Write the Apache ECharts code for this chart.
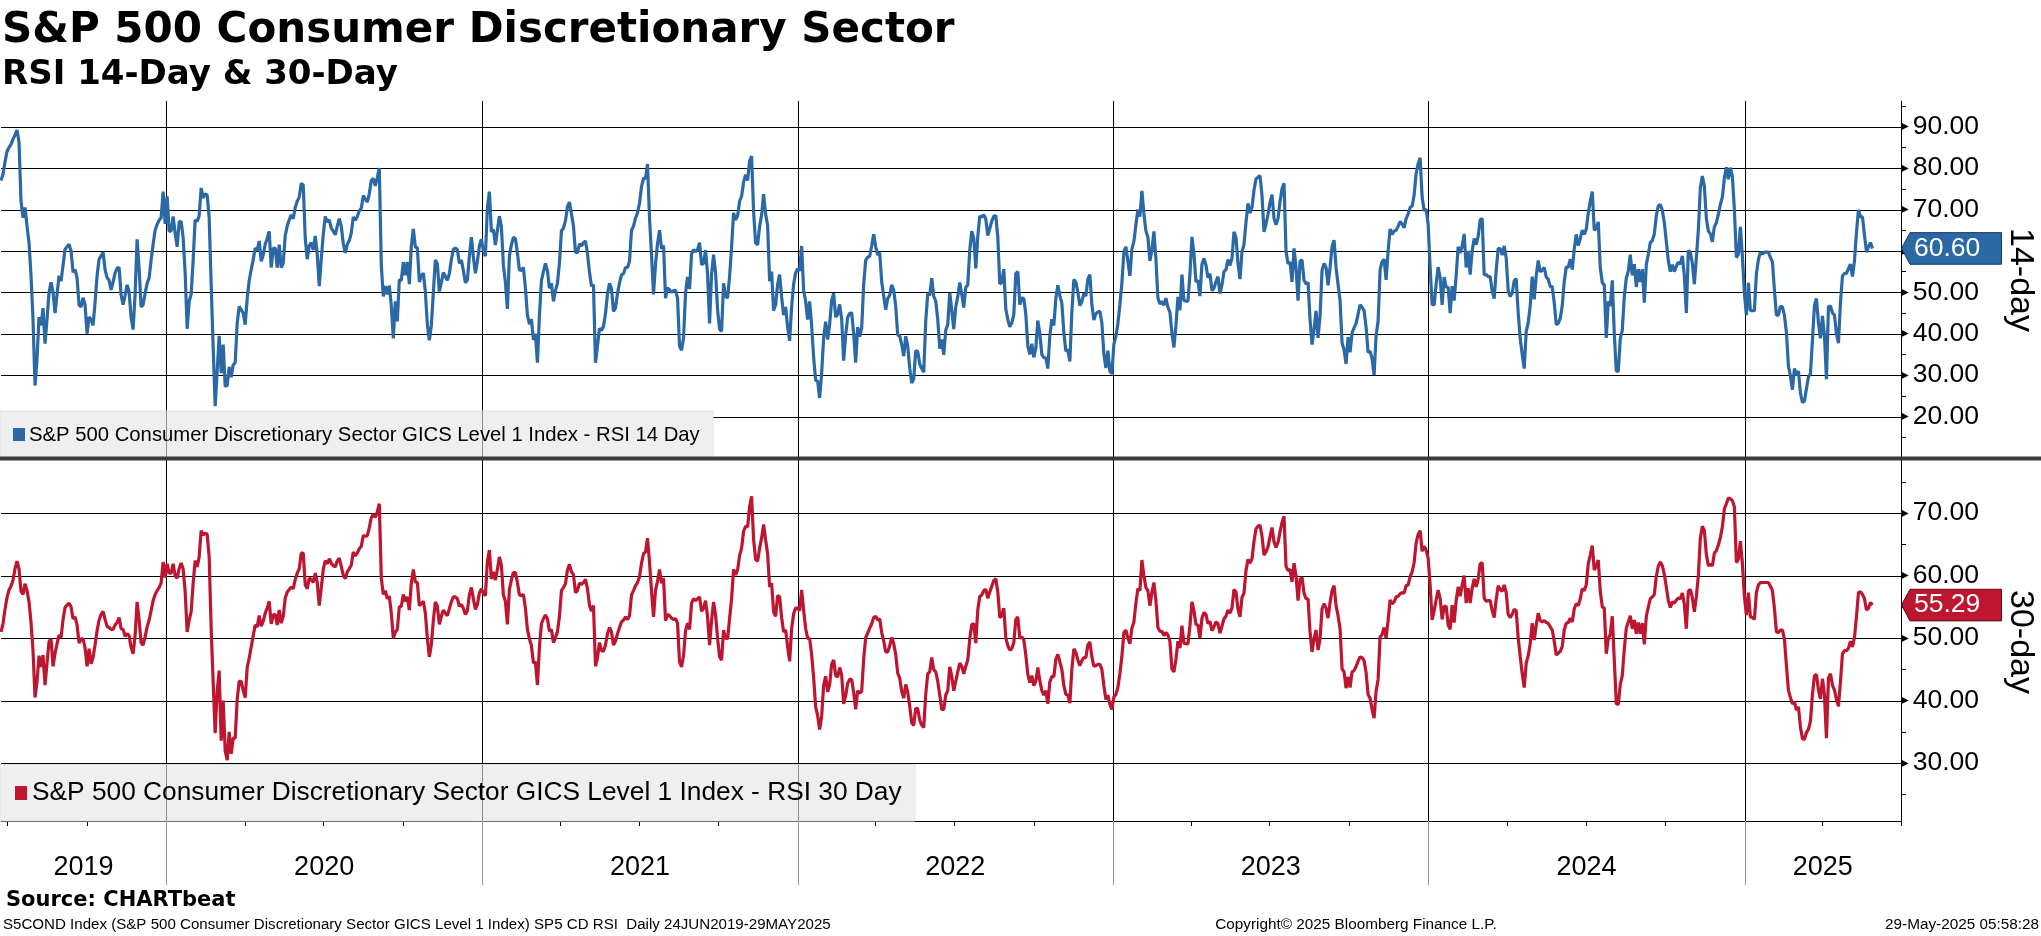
<!DOCTYPE html>
<html>
<head>
<meta charset="utf-8">
<script src="https://cdn.jsdelivr.net/npm/echarts@6/dist/echarts.min.js"></script>
<style>
html,body{margin:0;padding:0;background:#fff;}
#chart{width:2041px;height:936px;}
</style>
</head>
<body>
<div id="chart"></div>
<script>
// ---------------- data ----------------
const startDate = '2019-06-24';
const endDate = '2025-05-29';
const axisEndDate = '2025-07-01';

const rsi14 = [
77,78.5,81.5,84,85,85.7,87,88,89.2,86.3,
72,68,70.5,66,62,54,43.3,27.5,34,44,
42,46.2,37.6,43.5,50,52.4,50,45,49.5,54,
52.7,56.5,60.4,61,61.6,60,54.8,55.5,53.5,47,
46.5,48.7,47,40,44,43.5,42,47.5,54,58,
58.8,59.7,55.5,53.5,52.9,50.6,52.5,54.7,55.8,56,
49.4,47,49.3,51.8,50.1,44,41,49.5,62.8,55.8,
46.5,47,49.7,52.2,53.5,57.8,61.6,65,66.4,67.4,
68,74.3,66.5,73.2,64.8,64.8,68.3,64.3,61,67,
67.1,63.2,54.8,41.2,47.8,49.5,57.8,67.5,67.1,68.5,
75.2,72.8,73.8,73.5,68,52,36.6,22.5,31,39.5,
30.5,37.4,27.3,27.5,32,29.5,32.5,33,42.5,46.6,
45.8,45,42.2,48.5,52.8,55.5,57.9,60.7,60.2,62.4,
57.5,59,61.6,63,64.7,56,60.6,60.7,56,61.5,
56,57,63.7,66,67.5,68.7,67.8,70.5,72,73,
76.3,75.9,63,58,61.3,62,60.2,63.6,59.3,51.5,
58,64,68.3,67,67.5,65.5,64.8,63.9,66,67.8,
66,61.8,59.5,61.6,62.5,64.3,68.2,67.4,68.3,69.7,
70.3,73.4,72.5,71.8,73.8,77,77.5,75.7,77.7,80,
56.5,49,51.5,49.5,51.6,46.8,38.9,47.8,43,53,
52.9,57.3,54.1,57.3,52,61.2,65.3,60.9,60.8,52.5,
54,54.6,50.2,42.3,38.4,42,50,57.8,56.9,50.2,
52.4,54.8,53.9,52.9,54.5,57.9,60.4,60.7,60.3,57,
57.8,55.3,52.3,53,58.7,63.3,58.5,54.6,57.5,61.2,
62.8,60,58.7,70.3,74.3,64.6,65.2,61.4,65,68.4,
65.8,56.5,52.4,46,58.8,61.5,63.3,63,59.5,55.4,
55.3,56,51,44.5,42.3,43.5,38.5,40,33,44.5,
52.8,55,57,55.2,51,52.2,47.8,50.4,52.2,57,
64.9,65.5,67.3,70.7,71.8,69,66,59.7,59.6,61.7,
61.2,62,62.4,59.4,54.9,51.5,51.8,33,37,41.3,
40.8,41.8,44.8,49.6,52.2,50.9,45.4,46.2,49.7,52.3,
54.2,54.5,56,56,57.5,65,66,67.9,69.2,71.5,
75.5,77.6,77.4,81,68,59,49.5,56.8,61.8,65,
60.5,61.3,48.6,51.1,50.6,50,50.4,50.5,48.6,37,
36,39,49.8,53.7,50.8,59.3,60.3,59.8,60.3,62,
56.7,57,60.2,54.5,42.5,54.4,59.1,54.7,45.8,41.1,
40.6,52.2,49.1,48.6,53.8,61,69.2,67.5,68.5,72,
73.2,76.6,78.4,77,81.7,82.9,69.5,61.9,61.5,65.9,
68.7,73.7,68.9,66.2,52.7,55,45.6,47,51.9,54.3,
48.9,44.5,46.5,41.6,38.3,46.5,52,54.7,55.7,55.2,
61.2,50.4,47.9,43.4,47.8,42,34.3,28.8,28.5,24.5,
30.5,39,42.9,38.6,42.3,48,49.8,44,44.7,47.1,
43.5,33.5,39.6,44,44.9,45.1,40,33,41.6,39.3,
41.4,52,57.8,58.5,58.7,61.3,64,61,59,59.6,
52.5,49.2,45.8,48.5,49.3,51.8,50.5,46.7,39.7,39.5,
37.4,34.6,39.4,37,31.7,28.1,29.1,35.9,35.7,32.7,
31.6,30.7,43,49.7,49.3,53.4,49,47.9,43.5,36.4,
38.6,34.9,40.9,42.2,49.9,45.7,41.1,46.5,48.9,52.4,
49.5,46.3,51.2,51.8,60.2,64.8,63,55.8,63.5,68.4,
68.2,68.7,67.7,63.7,65.4,67.2,68.4,68.5,63.3,52,
52.4,55.6,46,43.4,41.7,42.6,44.6,54.5,55,47,
48.7,48.4,44.7,37,35,37.6,34.3,36.5,43.2,40,
35,34.2,34.2,31.6,39.5,43.5,42,48.5,51.7,49.2,
47.4,40.3,35.8,36.2,33.3,45.2,53.1,52.4,50,46.8,
47.8,49.7,49.1,53.2,54.3,47,43.3,44.8,45.3,45.4,
42.6,35.1,31.7,35.9,31,30.3,37.5,39.3,42.5,47,
52.3,59.8,61,57.5,54,60.5,62.3,66.3,70,68.3,
74.5,69,64.8,63.3,57.6,60.2,64.7,58.1,48.6,47.2,
47.8,46.9,48.6,46.4,45.2,40.1,36.7,42,48.9,45.7,
54.3,48,47.9,47.9,54.3,63.4,59.3,52.5,52.9,49.1,
56.8,58.2,56.6,53.5,54.5,50.4,51,52.6,53.8,49.7,
51.8,55,55.5,57.9,56.5,58.2,64.6,63.3,57,53.2,
59.8,61.5,66.9,71.5,69.2,70.5,74.7,77.4,77.8,78.2,
73.4,64.6,66.5,68.8,71.6,73.6,67.8,66.3,67.8,71.9,
75,76.3,60,56.9,57.3,52.5,60.6,56,48,57.6,
57.8,52.9,52,52.4,43.5,37.4,41,45.5,39,44.3,
55.3,57,56,51.7,56,61.1,62.6,56,51.9,48,
37.8,36.1,32.7,39.2,35.5,40.2,41.4,42.5,44.7,47,
46.4,45.6,41.6,35.5,35.8,34,30,39.6,43,55.4,
57.4,58,53,60,65.3,64,64.8,65,65.9,67.1,
66.5,65.6,67.8,68.9,70.5,70.8,73.5,78.7,81,82.5,
73,69.7,70.1,66.5,56,47,47,52,56.1,53.6,
47,53.7,51.3,51.2,45,51.5,48,54,61,59.5,
61.2,64.1,56,60,54.3,60,63,61.5,63.5,67.5,
67.8,54.2,54.3,53.8,53.8,50.4,48.5,55.3,60.6,60.5,
59,61.2,58.3,50.4,49,49.8,52.8,53.3,45,38.9,
35,31.6,40.5,42.7,46.8,53.8,48.3,54,57.7,55,
55.3,56,53.7,53.2,51.4,51.4,47.5,42.2,42.5,43.7,
46.8,52.6,56.1,56,58,55.5,60.5,64,61.3,63,
65,64,65.2,69.2,72,74.3,65,65.4,67,56,
52.3,51.8,39,47.8,46.7,52.9,40,31,30.9,38.8,
40.8,49,53.4,55.1,59.1,54.1,56.8,51.3,55.6,52.5,
55.6,47.5,56.7,59.2,62,62.5,64.1,68.5,70.9,71.2,
69.8,66.8,62.3,57.6,55,56.7,55,56.3,57.3,56.8,
58.8,54,45,60.1,59.7,57,52,58.3,65,75.2,
78.1,75.6,67.8,64.8,64.1,62.2,65.8,66.8,68.9,71.2,
73,77.6,80.2,77.3,80.1,78,70,58.4,59.2,65.8,
58.7,49.8,44.5,52.3,45.6,45.6,45.6,54.5,57.9,59.7,
59.2,59.7,59.7,59.7,58.4,57.4,50.6,44.5,44.5,46.6,
46.5,44.5,40.3,32.2,29.8,26.5,31.6,30,31,25.7,
23.4,23.7,26.7,29.6,30.3,38.4,46.8,48.5,42.6,38.9,
44.3,39.6,29,46.5,46.7,45,44.5,40,37.7,47.5,
53.9,54.6,54.6,55.7,56.8,53.8,57.6,64.5,69.9,68.2,
68.2,63.8,59.7,61,62,60.6
];

const rsi30 = [
51,52.3,54.6,56.5,57.7,58.3,59.3,61.1,62.3,61.1,
57.5,57,58.7,57.6,55.8,52.5,48,40.5,43,47.2,
45.4,47.3,42.5,46,49.5,49.8,45.5,47.6,49.1,50.5,
50.1,53,54.9,55.3,55.6,55,53.1,53.4,52.1,49.2,
49.9,49.9,48.4,45.5,48.3,45.9,46.9,49,51.2,52.9,
53.8,54.3,53,51.9,51.7,51.4,51.4,52.1,52.5,53.3,
51.5,51.4,50.3,50.7,50.4,48.5,47.5,50.5,55.8,52.9,
49.2,48.9,50.2,51.8,52.9,54.4,56,57,57.6,58.1,
58.8,62.2,59.7,61.9,60.4,60.4,61.9,60,59.6,61.1,
62,61.1,57.5,51,52.9,54.2,58.8,62.4,61.4,63,
67.2,66.5,66.8,66.6,63,51.5,43,34.8,41.5,44.8,
33.6,40,32,30.5,35,31.5,34,34,40.2,43.1,
43.1,41.6,40.5,45.3,46.8,48.6,50.4,52.1,51.8,53.6,
51.9,52.7,54,54.8,55.9,52.3,53.7,53.8,52.1,54.5,
52.4,53.5,56.4,57.4,57.8,58.2,57.9,59.4,60.4,61.1,
63.6,63.6,58.5,57.9,59.6,59.4,58.9,60.4,58.9,55.2,
58,61,62.4,61.9,62.7,62,61.6,61.4,62.4,62.8,
61.5,60.1,59.5,60.6,61.1,61.7,63.8,63.2,63.6,64.3,
64.7,66.4,66.3,66.4,67.7,69.3,69.8,69.3,70.2,71.5,
59.6,57,57.6,56.3,56.7,54,50,51,51.4,55,
55.1,57,55.9,56.6,54.5,58.8,61,59,58.9,55.2,
55.5,55.9,54,50,47,49,52.8,55.8,55.1,52.2,
53.5,54.5,54,53.6,54.7,55.8,56.6,56.6,56.3,55.1,
55.4,54.8,53.8,54.4,56.9,58.1,56.3,54.6,55.4,57.2,
57.9,57.2,56.8,62.3,64.1,59.5,60.6,59.3,61,63,
61.6,56.9,55.9,52.2,57.8,59.3,60.5,60.5,58.9,56.9,
56.8,57,54.8,51.4,49.9,48.8,46,46.2,42.5,48.6,
52.3,53.1,53.7,53.1,51.1,51.4,49.3,50.1,51,53.5,
57.6,58.1,58.7,60.9,61.8,60.6,60.2,57.3,57.6,58.8,
58.6,58.9,59.4,57.9,55.3,54.3,55.2,45.5,46.8,49.3,
48,47.9,48.9,50.7,51.7,51,48.9,49.5,50.7,51.7,
52.6,52.9,53.4,53,53.6,56.9,57.6,58.4,58.9,59.8,
62,63.5,63.8,66,62.2,57.5,53.4,57.7,59.1,61,
58.8,59.6,52.8,53.8,53.6,53.2,53,53.1,52.4,46.2,
45.4,47.2,51.2,52.4,51.4,55.6,56.3,56,56.3,56.6,
54.3,54.8,56,53.4,48.9,52.8,55.8,53.7,50,47,
46.5,51.3,50,49.9,53.1,56.3,61,60.1,60.9,63.2,
64.4,67.1,67.9,67.8,71,72.7,65.8,62.6,62.3,64.4,
66,68.2,65.7,63.5,58.2,58.8,54.2,53.5,56.8,56.6,
53.3,51,51.3,48.6,46.3,51.5,53.9,54.8,54.8,54.4,
57.7,54.5,51.5,50,49.9,47.4,43.7,39,37.6,35.4,
37.5,42.5,43.9,41.4,42.6,45.8,46.5,44,43.8,45.3,
44.1,39.5,40.8,42.8,43.4,43.4,41.3,38.6,41.6,41.2,
41.5,46.7,50.1,50.8,51.6,52.3,53.3,53.5,52.9,53.1,
50.9,49.6,47.8,47.8,48.8,50.1,49.1,47.4,44.4,43.6,
41.5,40.4,42.6,41.4,39.1,36.5,36,38.8,38.7,36.9,
36.1,35.7,41,44.3,44.6,46.9,45,44.6,43.1,40.9,
38.6,38.6,40.9,41.6,45.4,43.9,41.6,43.1,44.6,46,
45.5,44.3,45.5,46.5,49.9,52.2,52.3,49.2,54.5,56.7,
56.9,57.6,57.8,56.4,57.4,58.3,59.2,59.5,57.4,53.3,
53.6,54.8,50.1,48.8,48.1,48.3,49.3,53,53.4,50,
50.2,49.7,47.3,44.2,42.9,44,42.4,43.1,45.3,43.2,
41.6,40.9,41.6,39.5,43,43.9,43.8,46.6,47.4,46.2,
45,42.4,41,40.9,39.6,45,48.3,47.7,46.5,45.6,
46.4,46.9,46.9,48.9,49.4,47,45.5,45.6,45.8,45.8,
45,42.4,40.2,40.9,39.4,38.6,40.6,41,42.1,44.3,
47.1,50.9,51.3,50,49.1,51.6,52.6,55.6,57.9,57.6,
62.5,60,58.1,57.6,55.2,57.3,58.9,56,51.7,51.1,
51.1,50.4,50.9,50.5,49.5,45.1,44.6,46.6,49.5,48.4,
52,49.2,49.1,49.1,52,55.8,54.4,52.2,52.1,50,
53.2,54.1,53.8,52.3,52.7,51.2,51.8,52.6,52.3,50.8,
51.9,53.1,53.5,54.5,54,54.8,57.8,57.4,54.6,53.4,
56.5,57.2,60.8,62.6,62,62.7,65.5,67.5,67.9,68.1,
66.3,63.3,63.8,64.6,66.2,67.7,65.4,64.5,65.3,67,
68.5,69.5,61.5,60.8,61,59,62,60,56,59.4,
59.7,57.2,56.3,56.3,51,47.8,49.9,51.3,48.1,49.9,
54.7,55.5,54.8,53.2,55.7,57.6,58.4,55.2,53.6,51.5,
45.1,44.6,42,43.8,42.1,44.6,44.8,45.5,46.3,47,
46.9,46.4,44.5,41,40.4,38.6,37.2,41.5,43.4,50.2,
50.6,51.7,50,52.8,56.1,55.5,55.8,56.6,56.7,57.1,
57.3,57.2,58.4,58.5,59.8,60.6,62.1,65.2,66.6,67.2,
63.9,64.7,64.1,62.8,58.5,52.9,54.4,56.1,57.7,56.3,
53,55.1,55.1,52.1,51.4,55.3,52.5,56,58.2,56.7,
58.5,60,55.6,58,55.6,58,59.5,58.2,59.5,61.9,
62.1,56.4,55.9,56,56,54.4,53.3,56.2,58.4,57.8,
57.5,58.5,57.3,53.8,53.3,53.8,54.6,54.4,50,47.1,
44.3,42.1,46,47.2,49.1,52.4,49.7,52.1,54,52.8,
52.6,52.8,52.5,52.4,51.8,51.3,49.5,47.3,47.6,47.9,
48.7,51.3,52.4,52.5,53.2,52.6,54.7,55.5,55.2,56.3,
57.9,57.6,58.5,61.9,63.3,64.8,60.9,61.5,62.5,57.5,
55,54.8,47.5,49.9,50.6,53.5,46.5,39.5,39.4,42.6,
44,48.2,51.6,52.6,53.6,51.5,52.9,50.7,52.5,50.7,
52.4,49,53.5,55,56.3,56.6,57,59.9,61.5,62.2,
61.6,60.2,58.2,56,54.9,55.8,55.6,56.1,56.4,56.3,
57.2,55.4,51.5,57.5,57.8,56.5,54.2,56.6,60,66,
67.9,67.2,63.4,61.6,61.8,61.6,63.6,64,64.9,66.1,
67.8,70.7,71.5,72.4,72.3,72,71,62.1,62.6,65.5,
62,56.7,53.7,57.3,53.4,53.3,53,57.3,58.5,58.9,
58.9,58.9,58.9,58.9,58.3,57.6,54.8,51,50.9,51.3,
51.3,49.9,45.6,41.7,40.5,39.5,39.8,38.5,39,35.8,
33.9,33.8,34.9,35.4,36.7,41,44,44.2,41.7,40.3,
43.5,41,34,43.6,44.3,42.5,41.7,40.2,39.1,43,
47.5,48,48,48.4,49.5,48.6,50.1,53.5,57.3,57.4,
57,56.3,54.5,54.8,55.7,55.29
];

const yearStarts = ['2020-01-01','2021-01-01','2022-01-01','2023-01-01','2024-01-01','2025-01-01'];
const yearLabels = ['2019','2020','2021','2022','2023','2024','2025'];
const labels14 = [20,30,40,50,60,70,80,90];
const minor14 = [15,20,25,30,35,40,45,50,55,60,65,70,75,80,85,90,95];
const labels30 = [30,40,50,60,70];
const minor30 = [25,30,35,40,45,50,55,60,65,70,75];
const range14 = [10, 96.2];
const range30 = [20.75, 78.5];

const titleText = 'S&P 500 Consumer Discretionary Sector';
const subtitleText = 'RSI 14-Day & 30-Day';
const legend14 = 'S&P 500 Consumer Discretionary Sector GICS Level 1 Index - RSI 14 Day';
const legend30 = 'S&P 500 Consumer Discretionary Sector GICS Level 1 Index - RSI 30 Day';

// ---------------- chart ----------------
const BLUE = '#2b69a6', BLUE_DARK = '#163b63';
const RED = '#be1530', RED_DARK = '#5e0a17';
const ts = s => new Date(s + 'T00:00:00Z').getTime();
const t0 = ts(startDate), t1 = ts(endDate), tMax = ts(axisEndDate);
const n = rsi14.length;
const stepMs = (t1 - t0) / (n - 1);
const times = rsi14.map((_, i) => t0 + i * stepMs);
const d14 = rsi14.map((v, i) => [times[i], v]);
const d30 = rsi30.map((v, i) => [times[i], v]);

const chart = echarts.init(document.getElementById('chart'), null, {width: 2041, height: 936});

function yAx(gi, range, labels, minors) {
  return {
    type: 'value', gridIndex: gi, position: 'right', min: range[0], max: range[1],
    axisLine: {show: true, onZero: false, lineStyle: {color: '#000', width: 1}},
    axisTick: {show: true, customValues: minors, length: 5, lineStyle: {color: '#000', width: 1}},
    axisLabel: {
      show: true, customValues: labels, margin: 0,
      formatter: v => '{t|\u25B6}{n|' + Number(v).toFixed(2) + '}',
      rich: {
        t: {fontFamily: 'DejaVu Sans', fontSize: 10, color: '#000', padding: [0, 4, 0, 0]},
        n: {fontFamily: 'Liberation Sans', fontSize: 26.5, color: '#000'}
      }
    },
    splitLine: {show: false}
  };
}
function xAx(gi) {
  return {
    type: 'time', gridIndex: gi, min: t0, max: tMax,
    axisLine: {show: gi === 1, onZero: false, lineStyle: {color: '#000', width: 1}},
    axisTick: {show: false}, axisLabel: {show: false}, splitLine: {show: false}
  };
}

chart.setOption({
  animation: false,
  backgroundColor: '#fff',
  grid: [
    {left: 1, right: 140, top: 101, height: 357},
    {left: 1, right: 140, top: 460, height: 361}
  ],
  xAxis: [xAx(0), xAx(1)],
  yAxis: [yAx(0, range14, labels14, minor14), yAx(1, range30, labels30, minor30)],
  series: [
    {type: 'line', xAxisIndex: 0, yAxisIndex: 0, data: d14, showSymbol: false, symbol: 'none',
     lineStyle: {color: BLUE, width: 3.2}, z: 3, silent: true, sampling: null},
    {type: 'line', xAxisIndex: 1, yAxisIndex: 1, data: d30, showSymbol: false, symbol: 'none',
     lineStyle: {color: RED, width: 3.2}, z: 3, silent: true, sampling: null}
  ]
});

// ---------------- decorations positioned through the chart's scales ----------------
const P = (gi, t, v) => chart.convertToPixel({xAxisIndex: gi, yAxisIndex: gi}, [t, v]);
const cr = v => Math.round(v) + 0.5;
const xL = P(0, t0, 50)[0], xR = P(0, tMax, 50)[0];
const top0 = P(0, t0, range14[1])[1], bot0 = P(0, t0, range14[0])[1];
const top1 = P(1, t0, range30[1])[1], bot1 = P(1, t0, range30[0])[1];

const els = [];
const line = (x1, y1, x2, y2, color, z, w) => els.push({type: 'line', silent: true, z: z,
  shape: {x1, y1, x2, y2}, style: {stroke: color, lineWidth: w || 1}});
const text = (x, y, str, font, opts) => els.push(Object.assign({type: 'text', silent: true, x, y, z: 7,
  style: Object.assign({text: str, font: font, fill: '#000', align: 'left', verticalAlign: 'middle'}, (opts && opts.style) || {})},
  (opts && opts.el) || {}));

// horizontal gridlines
labels14.forEach(v => { const y = cr(P(0, t0, v)[1]); line(xL, y, xR, y, '#000', 1); });
labels30.forEach(v => { const y = cr(P(1, t0, v)[1]); line(xL, y, xR, y, '#000', 1); });

// legend boxes
const box14 = {x: 0, y: 411, w: 713, h: bot0 - 411};
const box30 = {x: 0, y: 764.5, w: 915, h: bot1 - 764.5};
[box14, box30].forEach(b => els.push({type: 'rect', silent: true, z: 5,
  shape: {x: b.x, y: b.y, width: b.w, height: b.h}, style: {fill: '#efefef', stroke: '#e2e2e2', lineWidth: 1}}));

// year separators
yearStarts.forEach(s => {
  const x = cr(P(1, ts(s), 50)[0]);
  line(x, top0, x, bot0, '#000', 1);
  line(x, top1, x, bot1, '#000', 1);
  line(x, bot1, x, 885, '#9a9a9a', 1);
  [box14, box30].forEach(b => { if (x > b.x && x < b.x + b.w) line(x, b.y, x, b.y + b.h, '#8c8c8c', 6); });
});
// quarter ticks
for (let yr = 2019; yr <= 2025; yr++) {
  [3, 6, 9].forEach(m => {
    const t = Date.UTC(yr, m, 1);
    if (t >= t0 && t <= tMax) { const x = cr(P(1, t, 50)[0]); line(x, bot1, x, bot1 + 5, '#000', 2); }
  });
}
// year labels centred in each year span
const edges = [t0].concat(yearStarts.map(ts), [tMax]);
yearLabels.forEach((lab, k) => {
  const xm = (P(1, edges[k], 50)[0] + P(1, edges[k + 1], 50)[0]) / 2;
  text(xm, 868, lab, '27px "Liberation Sans"', {style: {align: 'center'}});
});

// legend content
els.push({type: 'rect', silent: true, z: 7, shape: {x: 13, y: 428, width: 12, height: 13}, style: {fill: BLUE}});
text(29, 435, legend14, '20.3px "Liberation Sans"');
els.push({type: 'rect', silent: true, z: 7, shape: {x: 15, y: 786, width: 12, height: 14}, style: {fill: RED}});
text(32, 793, legend30, '26.3px "Liberation Sans"');

// panel separator
els.push({type: 'rect', silent: true, z: 8, shape: {x: 0, y: 456.5, width: 2041, height: 4}, style: {fill: '#3b3b3b'}});

// last-value tags
function tag(gi, val, fill, stroke) {
  const y = P(gi, t1, val)[1];
  const xa = xR + 0.5, xb = xR + 9, xe = 2001.5, h = 15.8;
  els.push({type: 'polygon', silent: true, z: 9,
    shape: {points: [[xa, y], [xb, y - h], [xe, y - h], [xe, y + h], [xb, y + h]]},
    style: {fill: fill, stroke: stroke, lineWidth: 1}});
  els.push({type: 'text', silent: true, z: 10, x: 1914, y: y,
    style: {text: val.toFixed(2), font: '26.5px "Liberation Sans"', fill: '#fff', align: 'left', verticalAlign: 'middle'}});
}
tag(0, rsi14[n - 1], BLUE, BLUE_DARK);
tag(1, rsi30[n - 1], RED, RED_DARK);

// rotated axis names
text(2020, 280, '14-day', '34px "Liberation Sans"', {style: {align: 'center'}, el: {rotation: -Math.PI / 2}});
text(2020, 642, '30-day', '34px "Liberation Sans"', {style: {align: 'center'}, el: {rotation: -Math.PI / 2}});

// titles & footer
text(2, 31, titleText, 'bold 42px "DejaVu Sans"');
text(2, 75, subtitleText, 'bold 34px "DejaVu Sans"');
text(6, 901, 'Source: CHARTbeat', 'bold 21px "DejaVu Sans"');
text(3, 925, 'S5COND Index (S&P 500 Consumer Discretionary Sector GICS Level 1 Index) SP5 CD RSI  Daily 24JUN2019-29MAY2025', '15.1px "Liberation Sans"');
text(1356, 925, 'Copyright\u00A9 2025 Bloomberg Finance L.P.', '15.3px "Liberation Sans"', {style: {align: 'center'}});
text(2039, 925, '29-May-2025 05:58:28', '15.3px "Liberation Sans"', {style: {align: 'right'}});

chart.setOption({graphic: {elements: els}});
</script>
</body>
</html>
